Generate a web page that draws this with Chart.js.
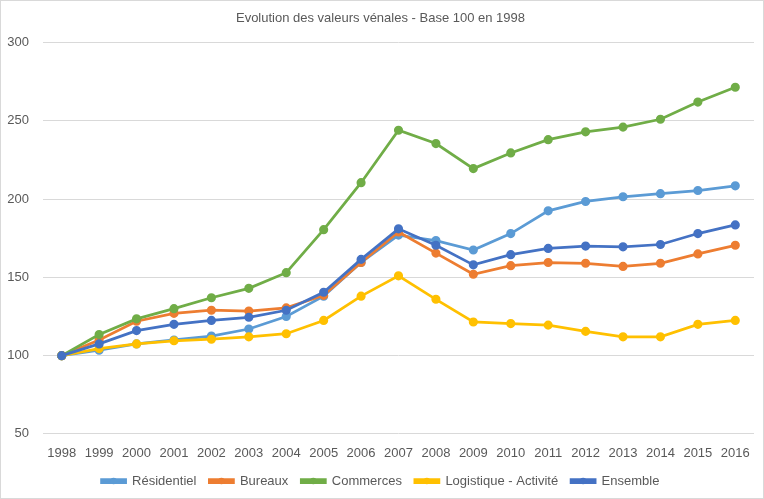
<!DOCTYPE html>
<html>
<head>
<meta charset="utf-8">
<script src="https://cdn.jsdelivr.net/npm/chart.js@4"></script>
<style>
  body { margin: 0; background: #fff; }
  #wrap { width: 762px; height: 497px; border: 1px solid #d9d9d9; overflow: hidden; }
</style>
</head>
<body>
<div id="wrap"><canvas id="valeursChart" width="762" height="497"></canvas></div>
<script>
// Données
const annees = ['1998', '1999', '2000', '2001', '2002', '2003', '2004', '2005', '2006', '2007',
                '2008', '2009', '2010', '2011', '2012', '2013', '2014', '2015', '2016'];
const residentiel = [100, 103.5, 107.5, 110, 112.5, 117, 125, 138, 159.5, 177, 173.5, 167.5, 178, 192.5, 198.5, 201.5, 203.5, 205.5, 208.5];
const bureaux = [100, 110, 122, 127, 129, 128.5, 130.5, 138.5, 159.5, 179, 165.5, 152, 157.5, 159.5, 159, 157, 159, 165, 170.5];
const commerces = [100, 113.5, 123.5, 130, 137, 143, 153, 180.5, 210.5, 244, 235.5, 219.5, 229.5, 238, 243, 246, 251, 262, 271.5];
const logistique = [100, 104.5, 107.5, 109.5, 110.5, 112, 114, 122.5, 138, 151, 136, 121.5, 120.5, 119.5, 115.5, 112, 112, 120, 122.5];
const ensemble = [100, 107.5, 116, 120, 122.5, 124.5, 129, 140.5, 161.5, 181, 170.5, 158, 164.5, 168.5, 170, 169.5, 171, 178, 183.5];
const yTicks = [50, 100, 150, 200, 250, 300];

const series = [
    { label: 'Résidentiel', data: residentiel, color: '#5B9BD5' },
    { label: 'Bureaux', data: bureaux, color: '#ED7D31' },
    { label: 'Commerces', data: commerces, color: '#70AD47' },
    { label: 'Logistique - Activité', data: logistique, color: '#FFC000' },
    { label: 'Ensemble', data: ensemble, color: '#4472C4' }
];

// Petits points au milieu des traits de la légende
const legendDots = {
    id: 'legendDots',
    afterDraw(chart) {
        const c = chart.ctx;
        const boxes = chart.legend.legendHitBoxes;
        chart.legend.legendItems.forEach((item, i) => {
            const b = boxes[i];
            c.save();
            c.fillStyle = item.strokeStyle;
            c.beginPath();
            c.arc(b.left + 12, b.top + b.height / 2, 3.2, 0, Math.PI * 2);
            c.fill();
            c.restore();
        });
    }
};

const ctx = document.getElementById('valeursChart').getContext('2d');

const valeursChart = new Chart(ctx, {
    type: 'line',
    data: {
        labels: annees,
        datasets: series.map((s, i) => ({
            label: s.label,
            data: s.data,
            borderColor: s.color,
            backgroundColor: s.color,
            borderWidth: 2.75,
            pointRadius: 3.2,
            pointHoverRadius: 3.2,
            pointBackgroundColor: s.color,
            pointBorderColor: s.color,
            tension: 0,
            order: series.length - i
        }))
    },
    options: {
        responsive: false,
        animation: false,
        layout: { padding: { left: 6, right: 9, top: 4, bottom: 0.5 } },
        plugins: {
            title: {
                display: true,
                text: 'Evolution des valeurs vénales - Base 100 en 1998',
                color: '#595959',
                font: { family: 'Liberation Sans', size: 13, weight: 'normal' },
                padding: { top: 6, bottom: 16 }
            },
            legend: {
                position: 'bottom',
                labels: {
                    color: '#595959',
                    font: { family: 'Liberation Sans', size: 13 },
                    boxWidth: 24,
                    boxHeight: 3,
                    padding: 13,
                    sort: (a, b) => a.datasetIndex - b.datasetIndex
                }
            },
            tooltip: { enabled: false }
        },
        scales: {
            x: {
                offset: true,
                grid: { display: false },
                border: { display: false },
                afterFit: (axis) => { axis.height -= 3; },
                ticks: {
                    color: '#595959',
                    font: { family: 'Liberation Sans', size: 13 },
                    maxRotation: 0,
                    autoSkip: false,
                    padding: 3.5
                }
            },
            y: {
                min: yTicks[0],
                max: yTicks[yTicks.length - 1],
                afterBuildTicks: (axis) => { axis.ticks = yTicks.map(v => ({ value: v })); },
                afterFit: (axis) => { axis.width = 36; },
                grid: { color: '#d9d9d9', lineWidth: 1, drawTicks: false },
                border: { display: false },
                ticks: {
                    color: '#595959',
                    font: { family: 'Liberation Sans', size: 13 },
                    padding: 14
                }
            }
        }
    },
    plugins: [legendDots]
});
</script>
</body>
</html>
